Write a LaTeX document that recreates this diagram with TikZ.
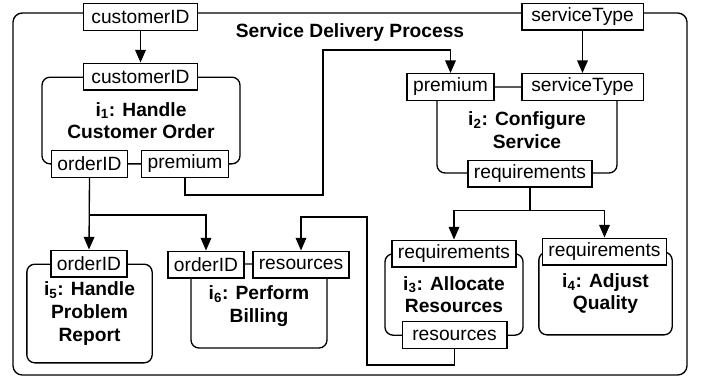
\documentclass[tikz,border=0pt]{standalone}
\usepackage{fontspec}
\setmainfont{Liberation Sans}
\usetikzlibrary{positioning,arrows.meta,calc}
\newcommand{\fuente}{\fontsize{14.4pt}{17pt}\selectfont}
\tikzset{
  puerto/.style={draw,fill=white,line width=1pt,inner xsep=4.5pt,inner ysep=0pt,minimum height=20pt},
  proceso/.style 2 args={draw,line width=1pt,rounded corners=6pt,align=center,font=\fuente\bfseries,
    minimum width=#1,minimum height=#2},
  flecha/.style={-{Triangle[length=9.5pt,width=8pt]},line width=1pt},
}
\begin{document}
\begin{tikzpicture}[x=0.75pt,y=-0.75pt,font=\fuente]
  \useasboundingbox (0,0) rectangle (704,379);
  \draw[line width=1pt,rounded corners=7pt] (13,13) rectangle (687,375);
  \node[font=\fuente\bfseries] (titulo) at (350,33) {Service Delivery Process};
  % procesos
  \node[proceso={148.5pt}{65pt}] (i1) at (141,120.5) {i\textsubscript{1}: Handle\\Customer Order};
  \node[proceso={135pt}{64.5pt}] (i2) at (527,130) {i\textsubscript{2}: Configure\\Service};
  \node[proceso={103.5pt}{61pt}] (i3) at (454,294.5) {i\textsubscript{3}: Allocate\\Resources};
  \node[proceso={100pt}{62pt}] (i4) at (605.5,293.5) {i\textsubscript{4}: Adjust\\Quality};
  \node[proceso={94pt}{74pt}] (i5) at (89.5,313.5) {i\textsubscript{5}: Handle\\Problem\\Report};
  \node[proceso={102pt}{63pt}] (i6) at (259,306) {i\textsubscript{6}: Perform\\Billing};
  % puertos
  \node[puerto,minimum width=85.5pt] (cidTop) at (140.5,17) {customerID};
  \node[puerto,minimum width=91pt] (stTop) at (582.5,16.5) {serviceType};
  \node[puerto,minimum width=85.5pt] (cid1) at (140.5,76.5) {customerID};
  \node[puerto] (ord1) at (89.5,164) {orderID};
  \node[puerto] (prem1) at (185,164) {premium};
  \node[puerto] (prem2) at (450.5,87) {premium};
  \node[puerto,minimum width=91pt] (st2) at (582.5,87) {serviceType};
  \node[puerto] (req2) at (530,173.5) {requirements};
  \node[puerto] (req3) at (454,253.5) {requirements};
  \node[puerto,minimum width=78.5pt] (res3) at (454.5,335) {resources};
  \node[puerto] (req4) at (604.5,251.5) {requirements};
  \node[puerto] (ord5) at (89,263.5) {orderID};
  \node[puerto] (ord6) at (206,264.5) {orderID};
  \node[puerto] (res6) at (301,264.5) {resources};
  % flujos
  \draw[flecha] (cidTop) -- (cid1);
  \draw[flecha] (stTop) -- (st2);
  \draw[flecha] (prem1.south) |- (323,195) -- (323,50) -| (prem2.north);
  \draw[flecha] (ord1.south) -- (ord5.north);
  \draw[flecha] (ord1.south) -- ++(0,37) -| (ord6.north);
  \foreach \d in {req3,req4} \draw[flecha] (req2.south) -- ++(0,23) -| (\d.north);
  \draw[flecha] (res3.south) -- ++(0,16) -| (367,217) -| (res6.north);
\end{tikzpicture}
\end{document}
